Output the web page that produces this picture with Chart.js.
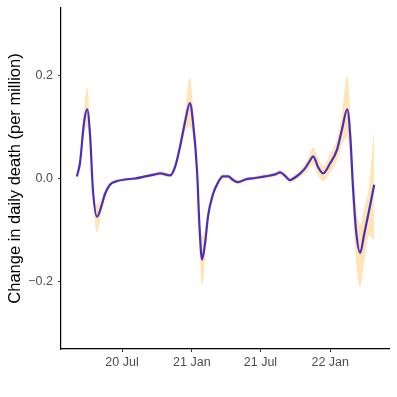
<!DOCTYPE html>
<html>
<head>
<meta charset="utf-8">
<script src="https://cdn.jsdelivr.net/npm/chart.js@4"></script>
<style>
  html, body { margin: 0; padding: 0; background: #fff; }
  #wrap { width: 397px; height: 397px; }
</style>
</head>
<body>
<div id="wrap"><canvas id="grafica" width="397" height="397"></canvas></div>
<script>
// days since 2020-07-01
const dias = [-119, -111, -100, -92, -84, -77, -66, -55, -45, -32, -13, 8, 34, 61, 87, 100, 127, 140, 153, 166, 179, 187, 198, 204, 211, 219, 227, 240, 253, 266, 280, 293, 306, 325, 351, 377, 404, 417, 430, 443, 456, 470, 483, 496, 504, 517, 530, 549, 567, 580, 594, 602, 609, 617, 628, 638, 652, 665];
const cambio = [0.004, 0.03, 0.11, 0.134, 0.08, -0.02, -0.074, -0.055, -0.03, -0.012, -0.005, -0.002, 0.0, 0.004, 0.008, 0.01, 0.006, 0.023, 0.062, 0.109, 0.146, 0.11, 0.012, -0.09, -0.157, -0.125, -0.072, -0.03, -0.008, 0.004, 0.004, -0.003, -0.007, -0.002, 0.001, 0.004, 0.008, 0.012, 0.005, -0.003, 0.002, 0.01, 0.02, 0.035, 0.043, 0.022, 0.01, 0.03, 0.056, 0.095, 0.134, 0.08, -0.016, -0.1, -0.144, -0.11, -0.06, -0.012];
const inferior = [0.001, 0.02, 0.085, 0.1, 0.06, -0.035, -0.105, -0.07, -0.037, -0.016, -0.008, -0.005, -0.003, 0.001, 0.004, 0.006, 0.002, 0.015, 0.05, 0.09, 0.1, 0.08, -0.01, -0.13, -0.206, -0.155, -0.087, -0.037, -0.013, 0.0, 0.0, -0.007, -0.011, -0.006, -0.003, 0.0, 0.004, 0.007, 0.0, -0.008, -0.004, 0.003, 0.01, 0.022, 0.027, 0.005, -0.005, 0.012, 0.035, 0.065, 0.08, 0.03, -0.06, -0.16, -0.21, -0.165, -0.11, -0.12];
const superior = [0.007, 0.04, 0.135, 0.176, 0.1, -0.005, -0.05, -0.04, -0.023, -0.008, -0.002, 0.001, 0.003, 0.007, 0.012, 0.014, 0.011, 0.03, 0.075, 0.13, 0.196, 0.14, 0.03, -0.06, -0.11, -0.095, -0.057, -0.023, -0.003, 0.008, 0.008, 0.001, -0.003, 0.002, 0.005, 0.008, 0.012, 0.017, 0.01, 0.002, 0.008, 0.017, 0.03, 0.048, 0.06, 0.04, 0.025, 0.048, 0.077, 0.125, 0.2, 0.13, 0.03, -0.05, -0.09, -0.06, -0.01, 0.1];
const tickDias = [0, 184, 365, 549];
const tickEtiquetas = ['20 Jul', '21 Jan', '21 Jul', '22 Jan'];
const yTicks = [-0.2, 0.0, 0.2];

const pts = arr => dias.map((d, i) => ({ x: d, y: arr[i] }));

new Chart(document.getElementById('grafica'), {
  type: 'line',
  data: {
    datasets: [{
      data: pts(cambio),
      borderColor: '#4A2FBD',
      borderWidth: 2.2,
      pointRadius: 0,
      fill: false,
      cubicInterpolationMode: 'monotone',
      order: 0
    }, {
      data: pts(inferior),
      borderWidth: 0,
      pointRadius: 0,
      fill: false,
      cubicInterpolationMode: 'monotone',
      order: 1
    }, {
      data: pts(superior),
      borderWidth: 0,
      pointRadius: 0,
      backgroundColor: '#FFE4B5',
      fill: '-1',
      cubicInterpolationMode: 'monotone',
      order: 1
    }]
  },
  options: {
    responsive: false,
    animation: false,
    layout: { padding: { top: 8, right: 8, left: 0, bottom: 0 } },
    plugins: { legend: { display: false }, tooltip: { enabled: false } },
    scales: {
      x: {
        type: 'linear',
        min: -161,
        max: 704,
        afterBuildTicks: ax => { ax.ticks = tickDias.map(v => ({ value: v })); },
        afterFit: ax => { ax.height = 48; },
        ticks: {
          callback: v => tickEtiquetas[tickDias.indexOf(v)],
          color: '#4d4d4d',
          font: { family: 'Liberation Sans', size: 12.5 },
          padding: 3,
          maxRotation: 0
        },
        grid: { drawOnChartArea: false, drawTicks: true, tickLength: 3, color: '#333' },
        border: { display: true, color: '#000', width: 1.2 }
      },
      y: {
        min: -0.33,
        max: 0.33,
        afterBuildTicks: ax => { ax.ticks = yTicks.map(v => ({ value: v })); },
        afterFit: ax => { ax.width = 61; ax.paddingTop = 0; ax.paddingBottom = 0; },
        ticks: {
          callback: v => (v < 0 ? '\u2212' : '') + Math.abs(v).toFixed(1),
          color: '#4d4d4d',
          font: { family: 'Liberation Sans', size: 12.5 },
          padding: 5
        },
        grid: { drawOnChartArea: false, drawTicks: true, tickLength: 3, color: '#333' },
        border: { display: true, color: '#000', width: 1.2 },
        title: {
          display: true,
          text: 'Change in daily death (per million)',
          color: '#000',
          font: { family: 'Liberation Sans', size: 16.5 },
          padding: { top: 6, bottom: 0 }
        }
      }
    }
  }
});
</script>
</body>
</html>
